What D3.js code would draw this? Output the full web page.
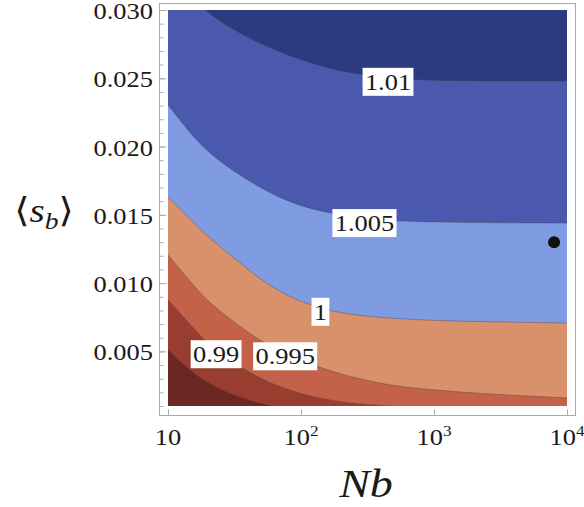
<!DOCTYPE html>
<html>
<head>
<meta charset="utf-8">
<script src="https://cdn.jsdelivr.net/npm/d3@7"></script>
<style>
  body { margin: 0; background: #fff; }
</style>
</head>
<body>
<svg id="chart" width="584" height="507"></svg>
<script>
// Sample points along the Nb axis shared by every contour line
const nbGrid = [10, 15, 20, 30, 50, 70, 100, 150, 200, 300, 500, 1000, 2000, 5000, 10000];

// Contour levels (ascending) and the <s_b> value of each line at nbGrid
const levels = [0.985, 0.99, 0.995, 1, 1.005, 1.01];
const sLevel0985 = [0.00510, 0.00349, 0.00268, 0.00181, 0.00115, 0.00085, 0.00063, 0.00049, 0.00041, 0.00034, 0.00027, 0.00020, 0.00012, 0.00005, 0.00000];
const sLevel099  = [0.00876, 0.00686, 0.00554, 0.00422, 0.00298, 0.00239, 0.00188, 0.00151, 0.00129, 0.00111, 0.00096, 0.00082, 0.00071, 0.00063, 0.00056];
const sLevel0995 = [0.01206, 0.01001, 0.00862, 0.00730, 0.00569, 0.00510, 0.00437, 0.00371, 0.00334, 0.00290, 0.00246, 0.00217, 0.00195, 0.00173, 0.00159];
const sLevel1    = [0.01631, 0.01462, 0.01338, 0.01199, 0.01023, 0.00935, 0.00862, 0.00810, 0.00781, 0.00759, 0.00741, 0.00726, 0.00719, 0.00712, 0.00708];
const sLevel1005 = [0.02304, 0.02085, 0.01960, 0.01828, 0.01696, 0.01623, 0.01565, 0.01521, 0.01499, 0.01469, 0.01455, 0.01447, 0.01444, 0.01440, 0.01440];
const sLevel101  = [0.03256, 0.03095, 0.02978, 0.02861, 0.02751, 0.02692, 0.02634, 0.02583, 0.02553, 0.02524, 0.02498, 0.02484, 0.02480, 0.02480, 0.02480];
const contourS = [sLevel0985, sLevel099, sLevel0995, sLevel1, sLevel1005, sLevel101];

// Where along Nb each contour carries its value label (null = unlabelled)
const labelNb = [null, 23, 76, 140, 300, 451];

// Fill of each band: below the lowest level, then above each level in turn
const bandColors = ["#6b2823", "#9a3d31", "#c36248", "#d8916a", "#7f9ce3", "#4a59ad", "#2d3a7f"];

// Axis ticks
const yMajorTicks = [0.005, 0.010, 0.015, 0.020, 0.025, 0.030];
const yMinorTicks = d3.range(1, 31).map(v => v / 1000);
const xTickValues = [10, 100, 1000, 10000];
const xTickExponents = [null, "2", "3", "4"];

// Highlighted point
const markerPoint = { nb: 8000, s: 0.013 };

const serif = "'Liberation Serif', 'Times New Roman', Times, 'DejaVu Serif', serif";
const svg = d3.select("#chart");
const stretch = 1.15;

const x = d3.scaleLog().domain([10, 1e4]).range([168, 567]);
const y = d3.scaleLinear().domain([0.001, 0.030]).range([406, 10]);

const [px0, px1] = x.range();
const [py1, py0] = y.range();

svg.append("defs").append("clipPath").attr("id", "plotClip")
  .append("rect").attr("x", px0).attr("y", py0)
  .attr("width", px1 - px0).attr("height", py1 - py0);

const plot = svg.append("g").attr("clip-path", "url(#plotClip)");

// Lowest band fills the whole plot; every higher band is painted above its line
plot.append("rect").attr("x", px0).attr("y", py0)
  .attr("width", px1 - px0).attr("height", py1 - py0)
  .attr("fill", bandColors[0]);

const linePoints = contourS.map(sArr => nbGrid.map((nb, j) => [nb, sArr[j]]));

const areaAbove = d3.area()
  .x(d => x(d[0]))
  .y0(py0 - 100)
  .y1(d => y(d[1]))
  .curve(d3.curveBasis);

linePoints.forEach((pts, i) => {
  plot.append("path").attr("d", areaAbove(pts)).attr("fill", bandColors[i + 1]);
});

const contourLine = d3.line().x(d => x(d[0])).y(d => y(d[1])).curve(d3.curveBasis);
linePoints.forEach(pts => {
  plot.append("path").attr("d", contourLine(pts))
    .attr("fill", "none").attr("stroke", "rgba(60,60,60,0.4)").attr("stroke-width", 0.9);
});

// Marker
svg.append("circle")
  .attr("cx", x(markerPoint.nb)).attr("cy", y(markerPoint.s))
  .attr("r", 6).attr("fill", "#111");

// Contour value labels on white boxes
function sAt(sArr, nb) {
  const lv = Math.log10(nb);
  for (let j = 0; j < nbGrid.length - 1; j++) {
    const a = Math.log10(nbGrid[j]), b = Math.log10(nbGrid[j + 1]);
    if (lv >= a && lv <= b) {
      const t = (lv - a) / (b - a);
      return sArr[j] + t * (sArr[j + 1] - sArr[j]);
    }
  }
  return sArr[sArr.length - 1];
}

function addText(parent) {
  return parent.append("text").attr("font-family", serif).attr("fill", "#1a1a1a");
}

levels.forEach((lev, i) => {
  if (labelNb[i] == null) return;
  const cx = x(labelNb[i]);
  const cy = y(sAt(contourS[i], labelNb[i])) + 4;
  const lg = svg.append("g").attr("transform", `translate(${cx},${cy}) scale(${stretch},1)`);
  const rect = lg.append("rect").attr("fill", "#fff");
  const t = addText(lg)
    .attr("text-anchor", "middle").attr("dy", "0.34em")
    .attr("font-size", 23).text(String(lev));
  const bb = t.node().getBBox();
  rect.attr("x", bb.x - 2).attr("y", -14).attr("width", bb.width + 4).attr("height", 28);
});

// Frame
const frame = { x0: 159, y0: 3, x1: 575, y1: 415 };
const frameColor = "#a9a9a9";
svg.append("rect")
  .attr("x", frame.x0 + 0.5).attr("y", frame.y0 + 0.5)
  .attr("width", frame.x1 - frame.x0).attr("height", frame.y1 - frame.y0)
  .attr("fill", "none").attr("stroke", frameColor).attr("stroke-width", 1);

// Left axis: minor and major ticks pointing into the frame
const leftMinor = svg.append("g").attr("transform", `translate(${frame.x0 + 0.5},0)`)
  .call(d3.axisLeft(y).tickValues(yMinorTicks).tickSizeInner(-4).tickSizeOuter(0).tickFormat(""));
const leftMajor = svg.append("g").attr("transform", `translate(${frame.x0 + 0.5},0)`)
  .call(d3.axisLeft(y).tickValues(yMajorTicks).tickSizeInner(-7).tickSizeOuter(0).tickFormat(""));
[leftMinor, leftMajor].forEach(ax => {
  ax.select(".domain").remove();
  ax.selectAll("line").attr("stroke", frameColor);
});

yMajorTicks.forEach(v => {
  addText(svg)
    .attr("transform", `translate(153,${y(v) + 1}) scale(${stretch},1)`)
    .attr("text-anchor", "end").attr("dy", "0.35em")
    .attr("font-size", 23).text(d3.format(".3f")(v));
});

// Bottom axis: major ticks pointing up into the frame
const bottom = svg.append("g").attr("transform", `translate(0,${frame.y1 + 0.5})`)
  .call(d3.axisBottom(x).tickValues(xTickValues).tickSizeInner(-6).tickSizeOuter(0).tickFormat(""));
bottom.select(".domain").remove();
bottom.selectAll("line").attr("stroke", frameColor);

xTickValues.forEach((v, i) => {
  const t = addText(svg)
    .attr("transform", `translate(${x(v)},445) scale(${stretch},1)`)
    .attr("text-anchor", "middle").attr("font-size", 23);
  t.append("tspan").text("10");
  if (xTickExponents[i]) {
    t.append("tspan").attr("dy", -9).attr("font-size", 15).text(xTickExponents[i]);
  }
});

// Axis titles
addText(svg)
  .attr("transform", `translate(366,497) scale(${stretch},1)`)
  .attr("text-anchor", "middle").attr("font-size", 40).attr("font-style", "italic")
  .text("Nb");

const yt = addText(svg)
  .attr("transform", `translate(44,222) scale(${stretch},1)`)
  .attr("text-anchor", "middle").attr("font-size", 34);
yt.append("tspan").text("⟨");
yt.append("tspan").attr("font-style", "italic").text("s");
yt.append("tspan").attr("font-style", "italic").attr("font-size", 24).attr("dy", 7).text("b");
yt.append("tspan").attr("dy", -7).text("⟩");
</script>
</body>
</html>
